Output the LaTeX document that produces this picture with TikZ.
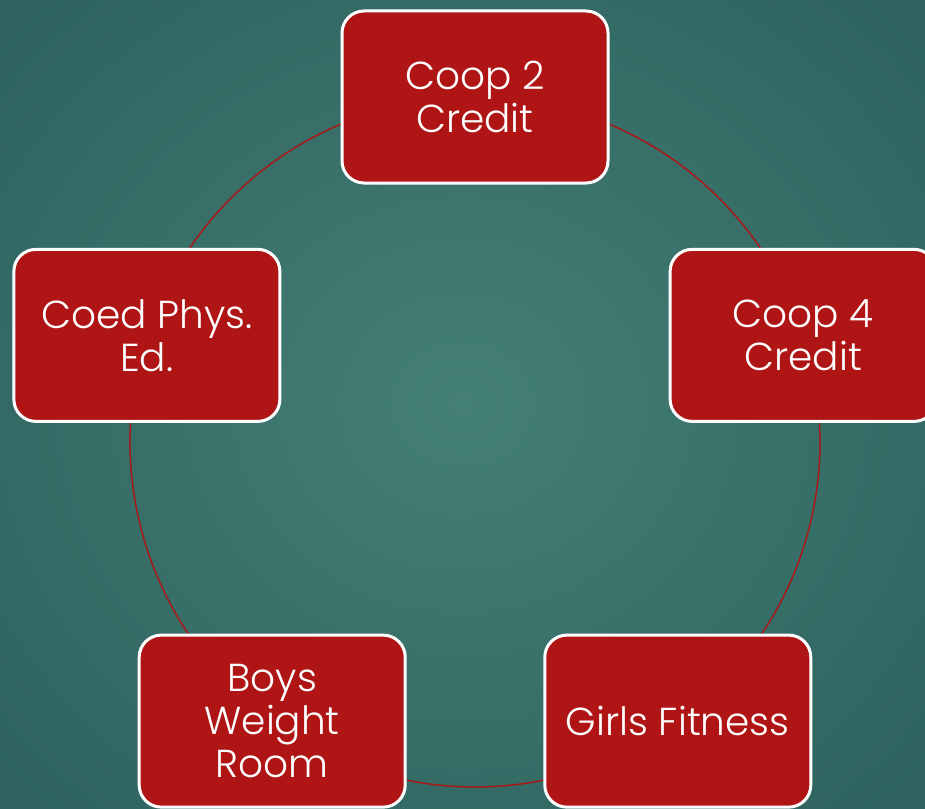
\documentclass[tikz,border=0pt]{standalone}
\usepackage{fontspec}
\setmainfont{Poppins Light}
\usetikzlibrary{calc}
\pgfdeclarelayer{back}
\pgfdeclarelayer{arcs}
\pgfsetlayers{back,arcs,main}
\definecolor{boxred}{HTML}{B01515}
\definecolor{arcred}{HTML}{A81818}
\definecolor{bgin}{HTML}{447F74}
\definecolor{bgout}{HTML}{2E6360}
\tikzset{
  cyclebox/.style={draw=white, line width=3pt, fill=boxred, rounded corners=22pt,
    minimum width=266pt, minimum height=172pt, inner sep=0pt, text=white,
    align=center, font=\fontsize{39}{43}\selectfont},
  cyclearc/.style={draw=arcred, line width=1.5pt}
}
\begin{document}
\begin{tikzpicture}[x=1pt,y=1pt]
\useasboundingbox (0,0) rectangle (925,-808);
\begin{pgfonlayer}{back}
\shade[inner color=bgin, outer color=bgout] (-150,150) rectangle (1075,-958);
\end{pgfonlayer}
\coordinate (c) at (475,-442);
\node[cyclebox] (n1) at ($(c)+(90:345)$) {Coop 2\\Credit};
\node[cyclebox] (n2) at ($(c)+(18:345)$) {Coop 4\\Credit};
\node[cyclebox] (n3) at ($(c)+(-54:345)$) {Girls Fitness};
\node[cyclebox] (n4) at ($(c)+(-126:345)$) {Boys\\Weight\\Room};
\node[cyclebox] (n5) at ($(c)+(162:345)$) {Coed Phys.\\Ed.};
\begin{pgfonlayer}{arcs}
\draw[cyclearc] (n1.center) arc[start angle=90, end angle=18, radius=345];
\draw[cyclearc] (n2.center) arc[start angle=18, end angle=-54, radius=345];
\draw[cyclearc] (n3.center) arc[start angle=-54, end angle=-126, radius=345];
\draw[cyclearc] (n4.center) arc[start angle=-126, end angle=-198, radius=345];
\draw[cyclearc] (n5.center) arc[start angle=162, end angle=90, radius=345];
\end{pgfonlayer}
\end{tikzpicture}
\end{document}
